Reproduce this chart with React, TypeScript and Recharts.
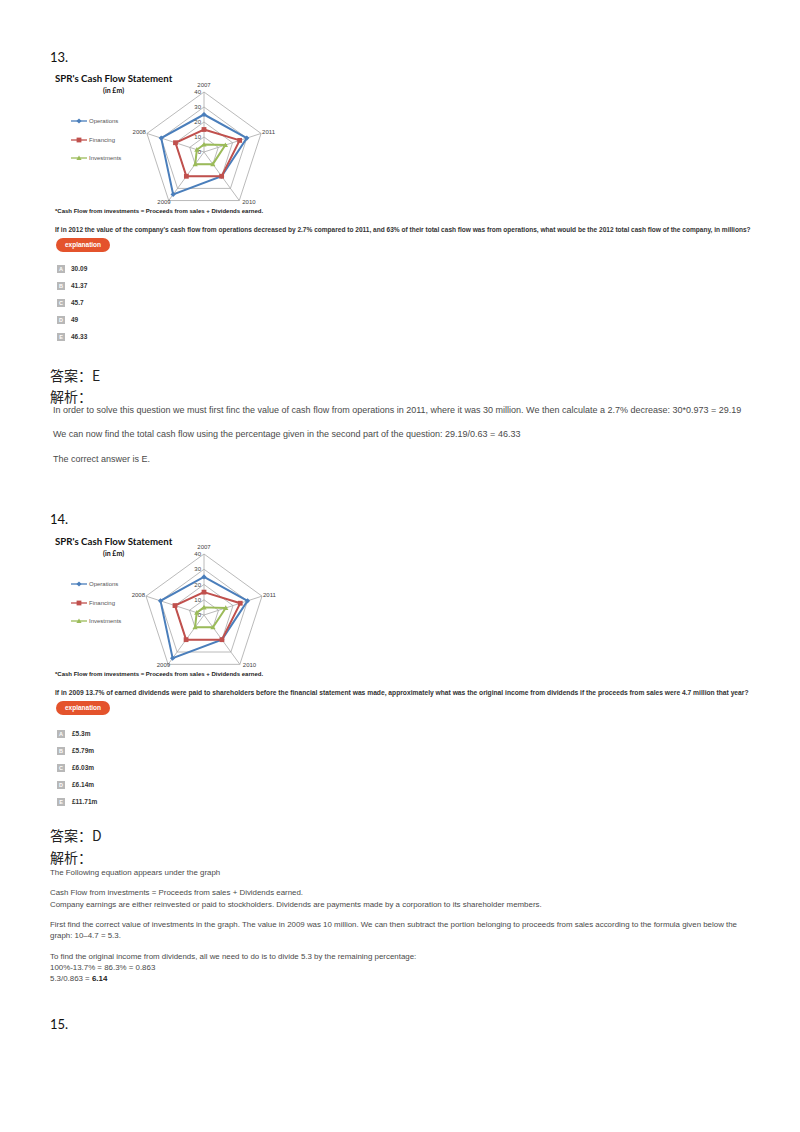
import React from "react";
import { RadarChart, Radar, PolarGrid, PolarAngleAxis, PolarRadiusAxis } from "recharts";

const years = ["2007", "2011", "2010", "2009", "2008"];
const operations = [25, 30, 20, 35, 30];
const financing = [15, 25, 20, 20, 20];
const investments = [5, 15, 10, 10, 5];
const radiusTicks = [0, 10, 20, 30, 40];

const seriesNames = ["Operations", "Financing", "Investments"];
const seriesColors = ["#4a7ebb", "#c0504d", "#9bbb59"];
const seriesShapes = ["diamond", "square", "triangle"];

const q13Options = ["30.09", "41.37", "45.7", "49", "46.33"];
const q14Options = ["£5.3m", "£5.79m", "£6.03m", "£6.14m", "£11.71m"];
const letters = ["A", "B", "C", "D", "E"];

const chartData = years.map((y, i) => ({
  year: y,
  Operations: operations[i],
  Financing: financing[i],
  Investments: investments[i],
}));

const CX = 84;
const CY = 80;

function Marker({ shape, cx, cy, color }: { shape: string; cx: number; cy: number; color: string }) {
  if (shape === "square") return <rect x={cx - 2.4} y={cy - 2.4} width={4.8} height={4.8} fill={color} />;
  if (shape === "triangle")
    return <polygon points={`${cx},${cy - 2.6} ${cx + 2.6},${cy + 2} ${cx - 2.6},${cy + 2}`} fill={color} />;
  return <polygon points={`${cx},${cy - 2.6} ${cx + 2.6},${cy} ${cx},${cy + 2.6} ${cx - 2.6},${cy}`} fill={color} />;
}

function Txt({ x, y, size, children, style }: any) {
  return (
    <div
      style={{
        position: "absolute",
        left: x,
        top: y - size * 0.6,
        fontSize: size,
        lineHeight: 1.2,
        whiteSpace: "nowrap",
        ...style,
      }}
    >
      {children}
    </div>
  );
}

// Excel-style category labels: sit beside the outer vertex
function makeAngleTick(r: number) {
  return function AngleTick({ x, y, payload }: any) {
    const dx = x - CX;
    const dy = y - CY;
    const len = Math.sqrt(dx * dx + dy * dy) || 1;
    const ux = dx / len;
    const uy = dy / len;
    const vx = CX + r * ux;
    const vy = CY + r * uy;
    let tx = vx;
    let ty = vy;
    let anchor = "middle";
    if (Math.abs(ux) < 0.1) {
      ty = vy - 5;
    } else if (uy > 0.5) {
      anchor = ux > 0 ? "start" : "end";
      tx = ux > 0 ? vx + 3 : vx + 2;
      ty = vy + 3;
    } else {
      anchor = ux > 0 ? "start" : "end";
      tx = ux > 0 ? vx + 1 : vx - 1;
      ty = vy + 1;
    }
    return (
      <text x={tx} y={ty} textAnchor={anchor} fontSize={6} fill="#444" fontFamily="Liberation Sans">
        {payload.value}
      </text>
    );
  };
}

function RadiusTick({ x, y, payload }: any) {
  return (
    <text x={x - 3} y={y} dy={2} textAnchor="end" fontSize={6} fill="#444" fontFamily="Liberation Sans">
      {payload.value}
    </text>
  );
}

function CashFlowChart({ off, r }: { off: number; r: number }) {
  const AngleTick = makeAngleTick(r);
  return (
    <>
      <Txt x={55} y={79 + off} size={9.7} style={{ fontFamily: "Lato", fontWeight: 700, color: "#111" }}>
        SPR's Cash Flow Statement
      </Txt>
      <Txt x={103} y={90 + off} size={7} style={{ fontFamily: "Lato", fontWeight: 700, color: "#111" }}>
        (in £m)
      </Txt>
      {seriesNames.map((n, i) => (
        <div
          key={n}
          style={{ position: "absolute", left: 70, top: 121 + off + i * 18.5 - 5, height: 10, display: "flex", alignItems: "center" }}
        >
          <svg width={18} height={10}>
            <line x1={1} y1={5} x2={17} y2={5} stroke={seriesColors[i]} strokeWidth={1.3} />
            <Marker shape={seriesShapes[i]} cx={9} cy={5} color={seriesColors[i]} />
          </svg>
          <span style={{ fontSize: 6, color: "#555", marginLeft: 1, fontFamily: "Liberation Sans" }}>{n}</span>
        </div>
      ))}
      <div style={{ position: "absolute", left: 120, top: 72 + off }}>
        <RadarChart width={175} height={145} data={chartData} cx={CX} cy={CY} outerRadius={r}>
          <PolarGrid gridType="polygon" stroke="#a8a8a8" strokeWidth={0.8} />
          <PolarAngleAxis dataKey="year" tick={<AngleTick />} tickLine={false} axisLine={false} />
          <PolarRadiusAxis
            angle={90}
            domain={[0, 40]}
            ticks={radiusTicks as any}
            tickCount={5}
            tick={<RadiusTick />}
            axisLine={false}
            tickLine={false}
          />
          {seriesNames.map((n, i) => (
            <Radar
              key={n}
              dataKey={n}
              stroke={seriesColors[i]}
              strokeWidth={2}
              fill="none"
              fillOpacity={0}
              isAnimationActive={false}
              dot={(p: any) => <Marker key={p.index} shape={seriesShapes[i]} cx={p.cx} cy={p.cy} color={seriesColors[i]} />}
            />
          ))}
        </RadarChart>
      </div>
      <Txt x={55} y={212 + off} size={6} style={{ fontWeight: 700, color: "#222" }}>
        *Cash Flow from investments = Proceeds from sales + Dividends earned.
      </Txt>
    </>
  );
}

function Options({ top, opts, textX }: { top: number; opts: string[]; textX: number }) {
  return (
    <>
      {opts.map((o, i) => (
        <React.Fragment key={i}>
          <div
            style={{
              position: "absolute",
              left: 57,
              top: top + i * 17 - 4,
              width: 8,
              height: 8,
              background: "#b8b8b8",
              color: "#fff",
              fontSize: 5.5,
              lineHeight: "8px",
              textAlign: "center",
              fontWeight: 700,
            }}
          >
            {letters[i]}
          </div>
          <Txt x={textX} y={top + i * 17} size={6.5} style={{ fontWeight: 700, color: "#333" }}>
            {o}
          </Txt>
        </React.Fragment>
      ))}
    </>
  );
}

function Button({ top }: { top: number }) {
  return (
    <div
      style={{
        position: "absolute",
        left: 56,
        top,
        width: 54,
        height: 14,
        borderRadius: 7,
        background: "#e4532c",
        color: "#fff",
        fontSize: 6.5,
        fontWeight: 700,
        lineHeight: "14px",
        textAlign: "center",
      }}
    >
      explanation
    </div>
  );
}

export default function App() {
  const body = { color: "#4a4a4a" };
  const cjk = { fontFamily: "Noto Sans CJK SC", color: "#222" };
  return (
    <div
      style={{
        position: "absolute",
        left: 0,
        top: 0,
        width: 800,
        height: 1132,
        background: "#fff",
        fontFamily: "Liberation Sans",
        overflow: "hidden",
      }}
    >
      <Txt x={50} y={58} size={13} style={{ fontFamily: "Lato", color: "#111" }}>13.</Txt>
      <CashFlowChart off={0} r={60} />
      <Txt x={55} y={230} size={6.55} style={{ fontWeight: 700, color: "#333" }}>
        If in 2012 the value of the company's cash flow from operations decreased by 2.7% compared to 2011, and 63% of their total cash flow was from operations, what would be the 2012 total cash flow of the company, in millions?
      </Txt>
      <Button top={238} />
      <Options top={269} opts={q13Options} textX={71} />
      <Txt x={50} y={375} size={14} style={cjk}>答案：E</Txt>
      <Txt x={50} y={396} size={14} style={cjk}>解析：</Txt>
      <Txt x={53} y={410} size={9} style={body}>
        In order to solve this question we must first finc the value of cash flow from operations in 2011, where it was 30 million. We then calculate a 2.7% decrease: 30*0.973 = 29.19
      </Txt>
      <Txt x={53} y={434} size={9} style={body}>
        We can now find the total cash flow using the percentage given in the second part of the question: 29.19/0.63 = 46.33
      </Txt>
      <Txt x={53} y={459} size={9} style={body}>The correct answer is E.</Txt>

      <Txt x={50} y={520} size={13} style={{ fontFamily: "Lato", color: "#111" }}>14.</Txt>
      <CashFlowChart off={463} r={61} />
      <Txt x={55} y={693} size={6.7} style={{ fontWeight: 700, color: "#333" }}>
        If in 2009 13.7% of earned dividends were paid to shareholders before the financial statement was made, approximately what was the original income from dividends if the proceeds from sales were 4.7 million that year?
      </Txt>
      <Button top={701} />
      <Options top={734} opts={q14Options} textX={72} />
      <Txt x={50} y={835} size={14} style={cjk}>答案：D</Txt>
      <Txt x={50} y={857} size={14} style={cjk}>解析：</Txt>
      <Txt x={50} y={873} size={7.9} style={body}>The Following equation appears under the graph</Txt>
      <Txt x={50} y={893} size={7.9} style={body}>Cash Flow from investments = Proceeds from sales + Dividends earned.</Txt>
      <Txt x={50} y={905} size={7.9} style={body}>
        Company earnings are either reinvested or paid to stockholders. Dividends are payments made by a corporation to its shareholder members.
      </Txt>
      <Txt x={50} y={925} size={7.9} style={body}>
        First find the correct value of investments in the graph. The value in 2009 was 10 million. We can then subtract the portion belonging to proceeds from sales according to the formula given below the
      </Txt>
      <Txt x={50} y={936} size={7.9} style={body}>graph: 10–4.7 = 5.3.</Txt>
      <Txt x={50} y={957} size={7.9} style={body}>
        To find the original income from dividends, all we need to do is to divide 5.3 by the remaining percentage:
      </Txt>
      <Txt x={50} y={968} size={7.9} style={body}>100%-13.7% = 86.3% = 0.863</Txt>
      <Txt x={50} y={979} size={7.9} style={body}>
        5.3/0.863 = <b style={{ color: "#222" }}>6.14</b>
      </Txt>

      <Txt x={50} y={1025} size={13} style={{ fontFamily: "Lato", color: "#111" }}>15.</Txt>
    </div>
  );
}
